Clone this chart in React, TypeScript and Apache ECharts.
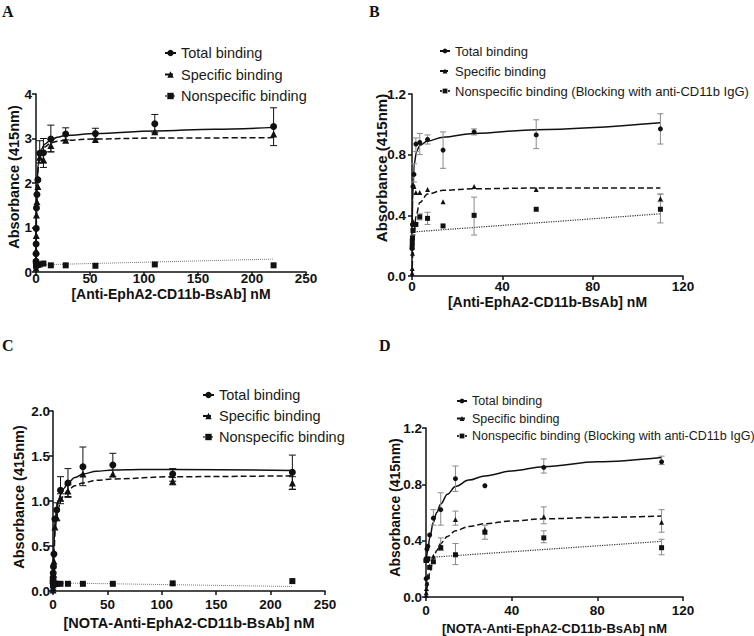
import React, { useEffect, useRef } from "react";
import * as echarts from "echarts";

const SANS = '"Liberation Sans", Arial, Helvetica, sans-serif';
const SERIF = '"Liberation Serif", "Times New Roman", serif';
const INK = "#111";

// Legend / series names
const TOTAL = "Total binding";
const SPECIFIC = "Specific binding";
const NONSPEC = "Nonspecific binding";
const NONSPEC_BLOCK = "Nonspecific binding (Blocking with anti-CD11b IgG)";
const Y_TITLE = "Absorbance (415nm)";

// ---------- Panel A: Anti-EphA2-CD11b-BsAb ----------
const concA = [220, 110, 55, 27.5, 13.75, 6.88, 3.44, 1.72, 0.86, 0.43, 0.21, 0.11, 0.05, 0.03];
const totalA = [3.27, 3.33, 3.11, 3.1, 2.99, 2.68, 2.67, 2.07, 1.74, 1.44, 0.98, 0.63, 0.41, 0.24];
const specificA = [3.1, 3.15, 2.98, 2.96, 2.84, 2.52, 2.58, 1.92, 1.58, 1.28, 0.82, 0.48, 0.26, 0.09];
const nonspecA = [0.15, 0.17, 0.14, 0.15, 0.15, 0.19, 0.17, 0.16, 0.16, 0.16, 0.16, 0.15, 0.15, 0.15];
const errTotalA = [[220, 2.84, 3.69], [110, 3.13, 3.54], [55, 2.99, 3.23], [27.5, 2.97, 3.24], [13.75, 2.7, 3.3], [6.88, 2.45, 3.0], [3.44, 2.45, 2.95]];
const errSpecificA = [[13.75, 2.7, 2.98], [6.88, 2.35, 2.7]];
const errNonspecA: number[][] = [];
const fitTotalA = [[0, 0.15], [0.5, 1.45], [1, 2.0], [2, 2.42], [3, 2.6], [5, 2.76], [8, 2.87], [13.75, 2.97], [20, 3.03], [27.5, 3.07], [55, 3.11], [110, 3.17], [165, 3.21], [220, 3.25]];
const fitSpecificA = [[0, 0], [0.5, 1.35], [1, 1.9], [2, 2.32], [3, 2.52], [5, 2.7], [8, 2.81], [13.75, 2.9], [20, 2.94], [27.5, 2.96], [55, 2.99], [110, 3.01], [220, 3.02]];
const fitNonspecA = [[0, 0.16], [220, 0.29]];

// ---------- Panel B: Anti-EphA2-CD11b-BsAb, blocking ----------
const concB = [110, 55, 27.5, 13.75, 6.88, 3.44, 1.72, 0.86, 0.43, 0.21, 0.11, 0.05];
const totalB = [0.97, 0.93, 0.95, 0.83, 0.9, 0.88, 0.87, 0.67, 0.59, 0.34, 0.21, 0.18];
const specificB = [0.51, 0.57, 0.59, 0.49, 0.57, 0.55, 0.55, 0.59, 0.36, 0.15, 0.05, 0.02];
const nonspecB = [0.44, 0.44, 0.4, 0.33, 0.38, 0.39, 0.34, 0.34, 0.3, 0.25, 0.23, 0.19];
const errTotalB = [[110, 0.87, 1.07], [55, 0.84, 1.03], [27.5, 0.93, 0.97], [13.75, 0.71, 0.95], [6.88, 0.87, 0.93], [3.44, 0.8, 0.94], [1.72, 0.82, 0.91], [0.86, 0.62, 0.74]];
const errSpecificB = [[110, 0.49, 0.54]];
const errNonspecB = [[110, 0.35, 0.54], [27.5, 0.27, 0.52], [6.88, 0.34, 0.42], [3.44, 0.37, 0.41], [0.43, 0.27, 0.33]];
const fitTotalB = [[0, 0.2], [0.3, 0.5], [0.6, 0.65], [1, 0.74], [2, 0.82], [3.44, 0.86], [6.88, 0.89], [13.75, 0.915], [27.5, 0.94], [55, 0.965], [110, 1.01]];
const fitSpecificB = [[0, 0], [0.5, 0.18], [1, 0.29], [1.72, 0.39], [3.44, 0.485], [6.88, 0.54], [13.75, 0.565], [27.5, 0.575], [55, 0.58], [110, 0.58]];
const fitNonspecB = [[0, 0.29], [110, 0.41]];

// ---------- Panel C: NOTA-Anti-EphA2-CD11b-BsAb ----------
const concC = [220, 110, 55, 27.5, 13.75, 6.88, 3.44, 1.72, 0.86, 0.43, 0.21, 0.11, 0.05, 0.03];
const totalC = [1.32, 1.3, 1.4, 1.38, 1.2, 1.12, 0.9, 0.8, 0.41, 0.27, 0.2, 0.15, 0.12, 0.09];
const specificC = [1.2, 1.22, 1.3, 1.3, 1.11, 1.03, 0.82, 0.71, 0.33, 0.19, 0.12, 0.07, 0.04, 0.01];
const nonspecC = [0.11, 0.085, 0.08, 0.08, 0.08, 0.08, 0.08, 0.08, 0.08, 0.08, 0.08, 0.08, 0.07, 0.07];
const errTotalC = [[220, 1.13, 1.51], [110, 1.22, 1.36], [55, 1.27, 1.53], [27.5, 1.17, 1.6], [13.75, 1.04, 1.36], [6.88, 1.0, 1.27], [3.44, 0.78, 0.98]];
const errSpecificC = [[220, 1.13, 1.27], [110, 1.18, 1.26], [13.75, 1.05, 1.18], [6.88, 0.97, 1.08]];
const errNonspecC: number[][] = [];
const fitTotalC = [[0, 0.08], [1, 0.55], [2, 0.78], [3.44, 0.93], [5, 1.0], [6.88, 1.07], [10, 1.14], [13.75, 1.2], [20, 1.26], [27.5, 1.3], [40, 1.33], [55, 1.345], [80, 1.35], [110, 1.35], [220, 1.34]];
const fitSpecificC = [[0, 0], [1, 0.45], [2, 0.68], [3.44, 0.83], [5, 0.92], [6.88, 1.0], [10, 1.07], [13.75, 1.12], [20, 1.17], [27.5, 1.2], [40, 1.23], [55, 1.245], [110, 1.27], [220, 1.28]];
const fitNonspecC = [[0, 0.09], [220, 0.05]];

// ---------- Panel D: NOTA-Anti-EphA2-CD11b-BsAb, blocking ----------
const concD = [110, 55, 27.5, 13.75, 6.88, 3.44, 1.72, 0.86, 0.43, 0.21, 0.11, 0.05];
const totalD = [0.96, 0.92, 0.79, 0.84, 0.62, 0.56, 0.44, 0.36, 0.34, 0.27, 0.26, 0.13];
const specificD = [0.53, 0.57, 0.48, 0.55, 0.36, 0.29, 0.22, 0.15, 0.1, 0.06, 0.03, 0.01];
const nonspecD = [0.35, 0.42, 0.46, 0.3, 0.35, 0.25, 0.21, 0.27, 0.27, 0.26, 0.26, 0.26];
const errTotalD = [[110, 0.94, 1.0], [55, 0.88, 0.98], [13.75, 0.75, 0.93], [6.88, 0.51, 0.74], [3.44, 0.51, 0.62]];
const errSpecificD = [[110, 0.46, 0.62], [55, 0.52, 0.64], [27.5, 0.41, 0.51], [13.75, 0.51, 0.61], [6.88, 0.33, 0.42]];
const errNonspecD = [[110, 0.3, 0.41], [55, 0.385, 0.47], [13.75, 0.23, 0.38]];
const fitTotalD = [[0, 0.25], [0.86, 0.33], [1.72, 0.42], [3.44, 0.53], [5, 0.6], [6.88, 0.66], [10, 0.73], [13.75, 0.785], [20, 0.83], [27.5, 0.86], [40, 0.895], [55, 0.925], [80, 0.96], [110, 0.99]];
const fitSpecificD = [[0, 0], [0.86, 0.09], [1.72, 0.17], [3.44, 0.27], [5, 0.33], [6.88, 0.38], [10, 0.43], [13.75, 0.47], [20, 0.5], [27.5, 0.52], [40, 0.54], [55, 0.555], [80, 0.565], [110, 0.575]];
const fitNonspecD = [[0.5, 0.28], [110, 0.395]];

type PanelDef = {
  letter: string;
  letterPos: [number, number];
  grid: { left: number; top: number; width: number; height: number };
  xMax: number; xStep: number; yMax: number; yStep: number; yDigits: number;
  xTitle: string; xTitleSize: number; xNameGap: number; xLabelMargin: number;
  yTitleSize: number; yTitlePos: [number, number]; yLabelMargin: number;
  conc: number[]; total: number[]; specific: number[]; nonspec: number[];
  fitTotal: number[][]; fitSpecific: number[][]; fitNonspec: number[][];
  errTotal: number[][]; errSpecific: number[][]; errNonspec: number[][];
  nsName: string;
  sizes: [number, number, number];
  errColor: string; capW: number; dotColor: string; dotWidth: number;
  legend: { left: number; top: number; itemWidth: number; itemHeight: number; fontSize: number; lineHeight: number; gap: number };
};

const panels: PanelDef[] = [
  {
    letter: "A", letterPos: [2, 3],
    grid: { left: 36, top: 94, width: 270, height: 178 },
    xMax: 250, xStep: 50, yMax: 4, yStep: 1, yDigits: 0,
    xTitle: "[Anti-EphA2-CD11b-BsAb] nM", xTitleSize: 14, xNameGap: 15, xLabelMargin: 0,
    yTitleSize: 14.5, yTitlePos: [14, 177], yLabelMargin: 4,
    conc: concA, total: totalA, specific: specificA, nonspec: nonspecA,
    fitTotal: fitTotalA, fitSpecific: fitSpecificA, fitNonspec: fitNonspecA,
    errTotal: errTotalA, errSpecific: errSpecificA, errNonspec: errNonspecA,
    nsName: NONSPEC, sizes: [7, 7, 6], errColor: INK, capW: 3.5, dotColor: "#777", dotWidth: 1,
    legend: { left: 164, top: 45, itemWidth: 11, itemHeight: 8, fontSize: 14.5, lineHeight: 16, gap: 5.5 },
  },
  {
    letter: "B", letterPos: [369, 3],
    grid: { left: 412, top: 94, width: 271, height: 182 },
    xMax: 120, xStep: 40, yMax: 1.2, yStep: 0.4, yDigits: 1,
    xTitle: "[Anti-EphA2-CD11b-BsAb] nM", xTitleSize: 14, xNameGap: 19, xLabelMargin: 4,
    yTitleSize: 15, yTitlePos: [381, 168], yLabelMargin: 6,
    conc: concB, total: totalB, specific: specificB, nonspec: nonspecB,
    fitTotal: fitTotalB, fitSpecific: fitSpecificB, fitNonspec: fitNonspecB,
    errTotal: errTotalB, errSpecific: errSpecificB, errNonspec: errNonspecB,
    nsName: NONSPEC_BLOCK, sizes: [5, 5, 5], errColor: "#8a8a8a", capW: 3, dotColor: "#333", dotWidth: 1.2,
    legend: { left: 439, top: 43.5, itemWidth: 10, itemHeight: 6, fontSize: 13, lineHeight: 15, gap: 5 },
  },
  {
    letter: "C", letterPos: [2, 337],
    grid: { left: 53, top: 411, width: 272, height: 180 },
    xMax: 250, xStep: 50, yMax: 2, yStep: 0.5, yDigits: 1,
    xTitle: "[NOTA-Anti-EphA2-CD11b-BsAb] nM", xTitleSize: 14.5, xNameGap: 25, xLabelMargin: 7,
    yTitleSize: 14.5, yTitlePos: [19, 497], yLabelMargin: 3,
    conc: concC, total: totalC, specific: specificC, nonspec: nonspecC,
    fitTotal: fitTotalC, fitSpecific: fitSpecificC, fitNonspec: fitNonspecC,
    errTotal: errTotalC, errSpecific: errSpecificC, errNonspec: errNonspecC,
    nsName: NONSPEC, sizes: [7, 7, 6], errColor: INK, capW: 3.5, dotColor: "#777", dotWidth: 1,
    legend: { left: 202, top: 387, itemWidth: 11, itemHeight: 8, fontSize: 14.5, lineHeight: 16, gap: 5 },
  },
  {
    letter: "D", letterPos: [379, 337],
    grid: { left: 426, top: 428, width: 257, height: 171 },
    xMax: 120, xStep: 40, yMax: 1.2, yStep: 0.4, yDigits: 1,
    xTitle: "[NOTA-Anti-EphA2-CD11b-BsAb] nM", xTitleSize: 13, xNameGap: 25, xLabelMargin: 7,
    yTitleSize: 14, yTitlePos: [394.5, 507.5], yLabelMargin: 4,
    conc: concD, total: totalD, specific: specificD, nonspec: nonspecD,
    fitTotal: fitTotalD, fitSpecific: fitSpecificD, fitNonspec: fitNonspecD,
    errTotal: errTotalD, errSpecific: errSpecificD, errNonspec: errNonspecD,
    nsName: NONSPEC_BLOCK, sizes: [5, 5, 5], errColor: "#8a8a8a", capW: 3, dotColor: "#333", dotWidth: 1.2,
    legend: { left: 456, top: 394, itemWidth: 10, itemHeight: 6, fontSize: 12.5, lineHeight: 14, gap: 3.5 },
  },
];

function fitLine(name: string, data: number[][], i: number, symbol: string, type: string, color: string, width: number) {
  return {
    type: "line", name, data, xAxisIndex: i, yAxisIndex: i,
    symbol, showSymbol: false, smooth: 0.35, smoothMonotone: "x",
    lineStyle: { color, width, type }, itemStyle: { color: INK },
    silent: true, z: 2,
  };
}

function points(name: string, conc: number[], vals: number[], i: number, symbol: string, size: number) {
  return {
    type: "scatter", name, xAxisIndex: i, yAxisIndex: i,
    data: conc.map((c, k) => [c, vals[k]]),
    symbol, symbolSize: size, itemStyle: { color: INK, opacity: 1 },
    silent: true, z: 4,
  };
}

function errorBars(name: string, data: number[][], i: number, color: string, w: number) {
  return {
    type: "custom", name: name + " SD", xAxisIndex: i, yAxisIndex: i,
    data, encode: { x: 0, y: [1, 2] }, silent: true, z: 3,
    renderItem: (_p: any, api: any) => {
      const x = api.value(0);
      const top = api.coord([x, api.value(2)]);
      const bot = api.coord([x, api.value(1)]);
      const style = { stroke: color, lineWidth: 1 };
      return {
        type: "group",
        children: [
          { type: "line", shape: { x1: top[0], y1: top[1], x2: bot[0], y2: bot[1] }, style },
          { type: "line", shape: { x1: top[0] - w, y1: top[1], x2: top[0] + w, y2: top[1] }, style },
          { type: "line", shape: { x1: bot[0] - w, y1: bot[1], x2: bot[0] + w, y2: bot[1] }, style },
        ],
      };
    },
  };
}

function buildOption() {
  const grids: any[] = [];
  const xAxes: any[] = [];
  const yAxes: any[] = [];
  const legends: any[] = [];
  const lines: any[] = [];
  const others: any[] = [];
  const texts: any[] = [];

  const axisLine = { show: true, onZero: false, lineStyle: { color: INK, width: 1.5 } };
  const axisTick = { show: true, inside: false, length: 4, lineStyle: { color: INK, width: 1.5 } };

  panels.forEach((p, i) => {
    grids.push({ ...p.grid, containLabel: false });
    xAxes.push({
      type: "value", gridIndex: i, min: 0, max: p.xMax, interval: p.xStep,
      name: p.xTitle, nameLocation: "middle", nameGap: p.xNameGap,
      nameTextStyle: { fontFamily: SANS, fontWeight: "bold", fontSize: p.xTitleSize, lineHeight: p.xTitleSize, color: INK },
      axisLine, axisTick, splitLine: { show: false },
      axisLabel: { fontFamily: SANS, fontWeight: "bold", fontSize: 13.5, lineHeight: 13, color: INK, margin: p.xLabelMargin },
    });
    yAxes.push({
      type: "value", gridIndex: i, min: 0, max: p.yMax, interval: p.yStep,
      axisLine, axisTick, splitLine: { show: false },
      axisLabel: {
        fontFamily: SANS, fontWeight: "bold", fontSize: 13.5, color: INK, margin: p.yLabelMargin,
        formatter: (v: number) => v.toFixed(p.yDigits),
      },
    });

    lines.push(fitLine(TOTAL, p.fitTotal, i, "circle", "solid", INK, 1.5));
    lines.push(fitLine(SPECIFIC, p.fitSpecific, i, "triangle", "dashed", INK, 1.5));
    lines.push(fitLine(p.nsName, p.fitNonspec, i, "rect", "dotted", p.dotColor, p.dotWidth));

    others.push(errorBars(TOTAL, p.errTotal, i, p.errColor, p.capW));
    others.push(errorBars(SPECIFIC, p.errSpecific, i, p.errColor, p.capW));
    others.push(errorBars(p.nsName, p.errNonspec, i, p.errColor, p.capW));
    others.push(points(TOTAL, p.conc, p.total, i, "circle", p.sizes[0]));
    others.push(points(SPECIFIC, p.conc, p.specific, i, "triangle", p.sizes[1]));
    others.push(points(p.nsName, p.conc, p.nonspec, i, "rect", p.sizes[2]));

    const lg = p.legend;
    legends.push({
      orient: "vertical", left: lg.left, top: lg.top, padding: 0,
      itemWidth: lg.itemWidth, itemHeight: lg.itemHeight, itemGap: lg.gap,
      selectedMode: false,
      data: [TOTAL, SPECIFIC, p.nsName],
      textStyle: { fontFamily: SANS, fontSize: lg.fontSize, lineHeight: lg.lineHeight, color: "#1a1a1a" },
    });

    // panel letter
    texts.push({
      type: "text", left: p.letterPos[0], top: p.letterPos[1],
      style: { text: p.letter, font: `bold 16px ${SERIF}`, fill: INK },
    });
    // rotated y-axis title
    texts.push({
      type: "text", x: p.yTitlePos[0], y: p.yTitlePos[1], rotation: Math.PI / 2,
      style: {
        text: Y_TITLE, font: `bold ${p.yTitleSize}px ${SANS}`, fill: INK,
        textAlign: "center", textVerticalAlign: "middle",
      },
    });
  });

  return {
    animation: false,
    backgroundColor: "#fff",
    grid: grids,
    xAxis: xAxes,
    yAxis: yAxes,
    legend: legends,
    graphic: texts,
    series: [...lines, ...others],
  };
}

export default function App() {
  const ref = useRef<HTMLDivElement>(null);
  useEffect(() => {
    if (!ref.current) return;
    const chart = echarts.init(ref.current, undefined, { renderer: "svg" });
    chart.setOption(buildOption() as any);
    return () => chart.dispose();
  }, []);
  return (
    <div
      ref={ref}
      style={{ position: "fixed", left: 0, top: 0, width: 754, height: 636, background: "#fff" }}
    />
  );
}
